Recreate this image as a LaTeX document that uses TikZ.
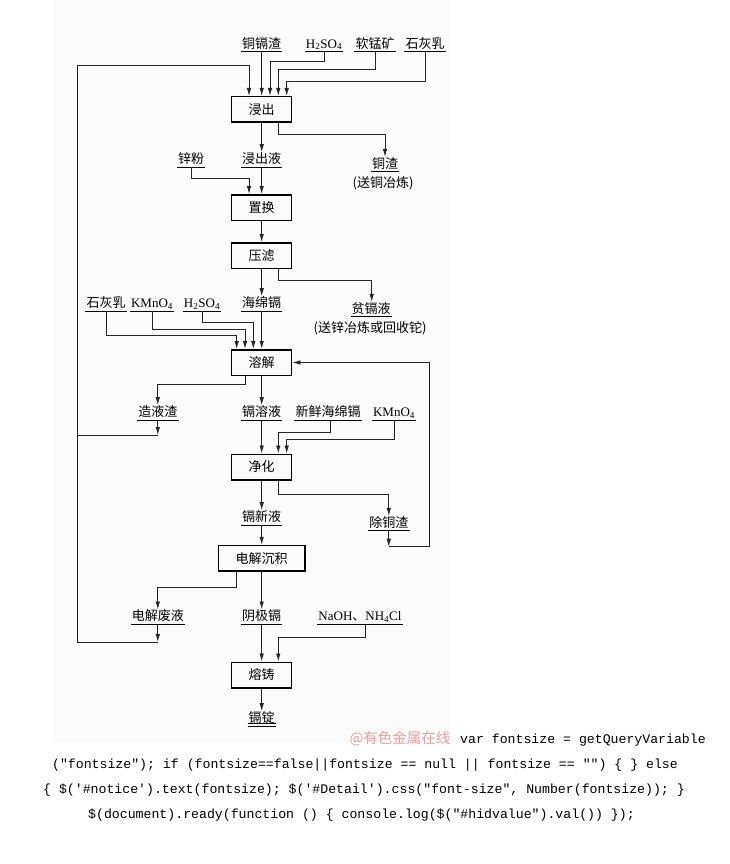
\documentclass[tikz,border=0pt]{standalone}
\usepackage{fontspec}
\setmainfont{Liberation Serif}
\newfontfamily\cjk{Noto Sans CJK SC}
\newfontfamily\codefont{Liberation Mono}
\usetikzlibrary{arrows.meta}
\definecolor{bgpale}{RGB}{251,251,251}
\definecolor{wmark}{RGB}{232,160,160}
\begin{document}
\begin{tikzpicture}[x=1pt,y=-1pt,
  conn/.style={line width=0.9pt,draw=black!85},
  arr/.style={conn,-{Latex[length=8pt,width=4.5pt]}},
  box/.style={draw,line width=1.5pt,minimum width=60pt,minimum height=25.5pt,inner sep=0pt,font=\cjk\fontsize{13}{15}\selectfont},
  lab/.style={inner xsep=1pt,inner ysep=0pt,text height=11pt,text depth=3.4pt,anchor=south,font=\cjk\fontsize{13}{15}\selectfont},
  labrm/.style={lab,font=\fontsize{13}{15}\selectfont},
  note/.style={inner sep=0pt,font=\cjk\fontsize{13}{15}\selectfont},
  code/.style={inner sep=0pt,font=\codefont\fontsize{13.2}{15}\selectfont}]
\useasboundingbox (0,0) rectangle (730,864);
\fill[bgpale] (53,0) rectangle (450,743);

% boxes
\node[box] (b1) at (261.7,109.5) {浸出};
\node[box] (b2) at (261.7,207.5) {置换};
\node[box] (b3) at (261.7,255.5) {压滤};
\node[box] (b4) at (261.7,362.5) {溶解};
\node[box] (b5) at (261.7,467) {净化};
\node[box,minimum width=86.7pt] (b6) at (261.7,558.3) {电解沉积};
\node[box] (b7) at (261.7,675) {熔铸};

% labels
\node[lab] (t1) at (261.7,51.7) {铜镉渣};
\node[labrm] (t2) at (324,51.7) {H\textsubscript{2}SO\textsubscript{4}};
\node[lab] (t3) at (375,51.7) {软锰矿};
\node[lab] (t4) at (425,51.7) {石灰乳};
\node[lab] (jcy) at (261.7,167) {浸出液};
\node[lab] (xf) at (191.2,167) {锌粉};
\node[lab] (tz) at (385,171.7) {铜渣};
\node[note] (tzn) at (383,183.5) {(送铜冶炼)};
\node[lab] (s2) at (106,311) {石灰乳};
\node[labrm] (k1) at (152,311) {KMnO\textsubscript{4}};
\node[labrm] (h2) at (202,311) {H\textsubscript{2}SO\textsubscript{4}};
\node[lab] (hm) at (261.7,311) {海绵镉};
\node[lab] (pg) at (371.2,316.7) {贫镉液};
\node[note] (pgn) at (370,328.5) {(送锌冶炼或回收铊)};
\node[lab] (zy) at (157.8,420) {造液渣};
\node[lab] (gry) at (261.7,420) {镉溶液};
\node[lab] (xx) at (328,420) {新鲜海绵镉};
\node[labrm] (k2) at (394,420) {KMnO\textsubscript{4}};
\node[lab] (gxy) at (261.7,525) {镉新液};
\node[lab] (ctz) at (388.8,530.7) {除铜渣};
\node[lab] (fy) at (157.8,624.3) {电解废液};
\node[lab] (yj) at (261.7,624.3) {阴极镉};
\node[labrm] (na) at (360,624.3) {NaOH{\cjk 、}NH\textsubscript{4}Cl};
\node[lab] (gd) at (261.7,726) {镉锭};

\foreach \n in {t1,t2,t3,t4,jcy,xf,tz,s2,k1,h2,hm,pg,zy,gry,xx,k2,gxy,ctz,fy,yj,na,gd}
  \draw[line width=0.8pt] (\n.south west) -- (\n.south east);
\draw[line width=0.8pt] ([yshift=3pt]gd.south west) -- ([yshift=3pt]gd.south east);

% feedback coordinates
\coordinate (fa) at (77.3,65.7);
\coordinate (fb) at (77.3,435);
\coordinate (fc) at (77.3,642);
\coordinate (rr) at (429.3,546.7);

% inputs to leaching
\draw[arr] (t1.south) -- (b1.north);
\draw[arr] (t2.south) |- (270,61.7) -- (270,0 |- b1.north);
\draw[arr] (t3.south) |- (278.3,69.3) -- (278.3,0 |- b1.north);
\draw[arr] (t4.south) |- (286.7,81) -- (286.7,0 |- b1.north);
\draw[arr] (fc) -- (fa) -| (249,0 |- b1.north);

% leaching outputs
\draw[arr] (b1.south) -- (jcy.north);
\draw[arr] (278.3,0 |- b1.south) |- (385,134.3) -- (tz.north);
\draw[arr] (xf.south) |- (249,178.3) -- (249,0 |- b2.north);
\draw[arr] (jcy.south) -- (b2.north);
\draw[arr] (b2.south) -- (b3.north);
\draw[arr] (b3.south) -- (hm.north);
\draw[arr] (278.3,0 |- b3.south) |- (371.7,280.7) -- (371.7,0 |- pg.north);

% inputs to dissolving
\draw[arr] (s2.south) |- (236.7,335) -- (236.7,0 |- b4.north);
\draw[arr] (k1.south) |- (245,329.3) -- (245,0 |- b4.north);
\draw[arr] (h2.south) |- (253.3,322.7) -- (253.3,0 |- b4.north);
\draw[arr] (hm.south) -- (b4.north);

% dissolving outputs
\draw[arr] (245,0 |- b4.south) |- (157.8,384) -- (zy.north);
\draw[arr] (zy.south) -- (zy.south |- fb);
\draw[conn] (zy.south |- fb) -- (fb);
\draw[arr] (b4.south) -- (gry.north);

% purification
\draw[arr] (gry.south) -- (b5.north);
\draw[arr] (330,0 |- xx.south) |- (278.3,432.7) -- (278.3,0 |- b5.north);
\draw[arr] (k2.south) |- (286.7,439.3) -- (286.7,0 |- b5.north);
\draw[arr] (b5.south) -- (gxy.north);
\draw[arr] (278.3,0 |- b5.south) |- (388.8,494.3) -- (ctz.north);
\draw[arr] (ctz.south) -- (ctz.south |- rr);
\draw[arr] (ctz.south |- rr) -- (rr) -- (rr |- b4.east) -- (b4.east);

% electrolysis
\draw[arr] (gxy.south) -- (b6.north);
\draw[arr] (236,0 |- b6.south) |- (157.8,587.7) -- (fy.north);
\draw[arr] (b6.south) -- (yj.north);
\draw[arr] (fy.south) -- (fy.south |- fc);
\draw[conn] (fy.south |- fc) -- (fc);

% casting
\draw[arr] (yj.south) -- (b7.north);
\draw[arr] (365,0 |- na.south) |- (278.3,637.7) -- (278.3,0 |- b7.north);
\draw[arr] (b7.south) -- (gd.north);

% watermark and stray code text
\node[inner sep=0pt,text=wmark,font=\cjk\fontsize{14.5}{16}\selectfont] (wm) at (400,738.5) {@有色金属在线};
\node[code,anchor=west] (c1) at (460,740) {var fontsize = getQueryVariable};
\node[code] (c2) at (365,765) {("fontsize"); if (fontsize==false||fontsize == null || fontsize == "") \{ \} else};
\node[code] (c3) at (364,790) {\{ \$('\#notice').text(fontsize); \$('\#Detail').css("font-size", Number(fontsize)); \}};
\node[code] (c4) at (361.5,815) {\$(document).ready(function () \{ console.log(\$("\#hidvalue").val()) \});};
\end{tikzpicture}
\end{document}
